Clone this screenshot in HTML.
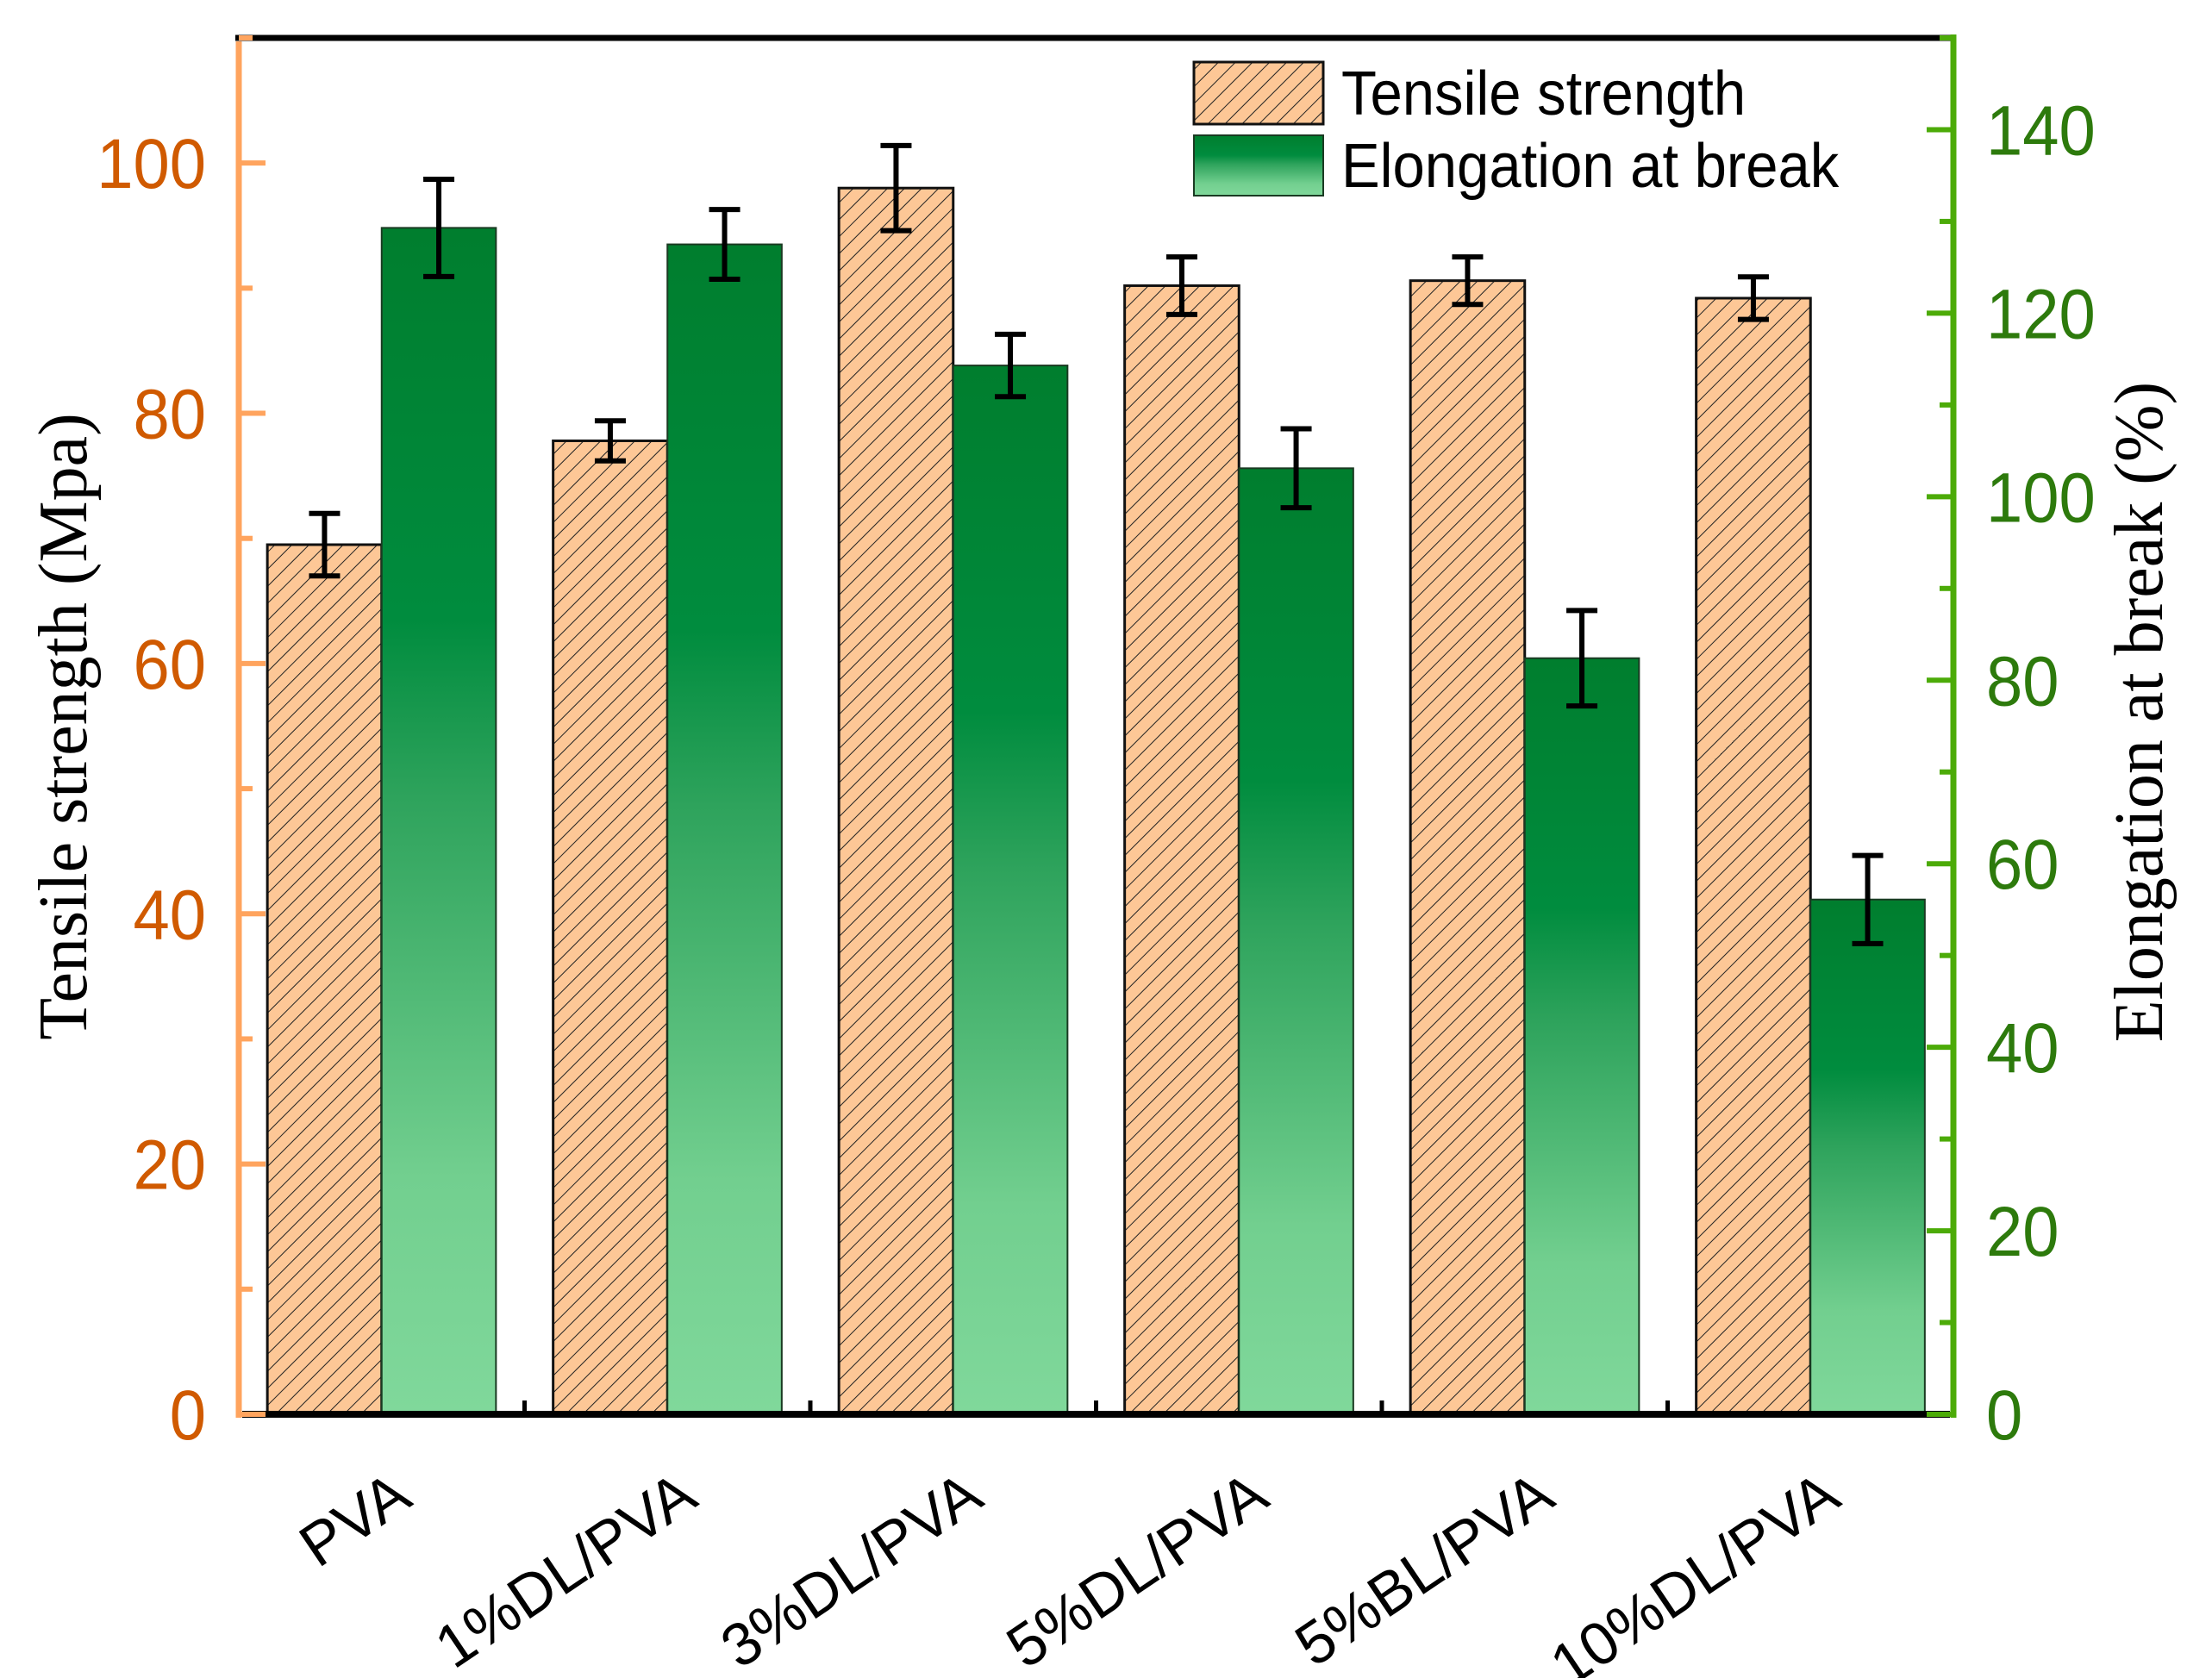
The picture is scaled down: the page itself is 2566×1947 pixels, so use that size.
<!DOCTYPE html>
<html><head><meta charset="utf-8"><style>
html,body{margin:0;padding:0;background:#fff;}
svg{display:block;}
</style></head><body>
<svg id="chart" width="2566" height="1947" viewBox="0 0 2566 1947" xmlns="http://www.w3.org/2000/svg">
<defs>
<pattern id="hatch" patternUnits="userSpaceOnUse" width="14" height="14" patternTransform="rotate(45)">
<rect width="14" height="14" fill="#fdc796"/>
<line x1="0" y1="0" x2="0" y2="14" stroke="#222" stroke-width="2"/>
</pattern>
<linearGradient id="grad" x1="0" y1="0" x2="0" y2="1">
<stop offset="0" stop-color="#007e2e"/>
<stop offset="0.33" stop-color="#008c3e"/>
<stop offset="0.48" stop-color="#2ea35c"/>
<stop offset="0.8" stop-color="#72cf8f"/>
<stop offset="1" stop-color="#80d89b"/>
</linearGradient>
</defs>
<g id="plot"></g>
</svg>
<script>
const categories = ["PVA","1%DL/PVA","3%DL/PVA","5%DL/PVA","5%BL/PVA","10%DL/PVA"];
const tensile = [69.5, 77.8, 98.0, 90.2, 90.6, 89.2];
const tensileErr = [2.5, 1.6, 3.4, 2.3, 1.9, 1.7];
const elong = [129.3, 127.5, 114.3, 103.1, 82.4, 56.1];
const elongErr = [5.3, 3.8, 3.4, 4.3, 5.2, 4.8];
const leftTicks = [0,20,40,60,80,100];
const rightTicks = [0,20,40,60,80,100,120,140];

const NS="http://www.w3.org/2000/svg";
const X0=277, X1=2266, Y0=1641, YT=44;
const yL = v => Y0 - (Y0-YT)*v/110;
const yR = v => Y0 - (Y0-YT)*v/150;
const cw = (X1-X0)/categories.length;
const xc = i => X0 + cw*(i+0.5);
const bw = cw*0.4;
const g = document.getElementById('plot');
function mk(tag, attrs){const e=document.createElementNS(NS,tag);for(const k in attrs)e.setAttribute(k,attrs[k]);g.appendChild(e);return e;}

categories.forEach((c,i)=>{
  const t = mk('rect',{x:xc(i)-bw,y:yL(tensile[i]),width:bw,height:Y0-yL(tensile[i]),fill:'url(#hatch)',stroke:'#111','stroke-width':3});
  
  
  const e = mk('rect',{x:xc(i),y:yR(elong[i]),width:bw,height:Y0-yR(elong[i]),fill:'url(#grad)',stroke:'#1a3a22','stroke-width':2});
  
  
});
function err(x,yTop,yBot,name){
  const p = mk('path',{d:`M${x},${yTop}V${yBot}M${x-18},${yTop}H${x+18}M${x-18},${yBot}H${x+18}`,stroke:'#000','stroke-width':6,fill:'none'});
  
  
}
categories.forEach((c,i)=>{
  err(xc(i)-bw/2, yL(tensile[i]+tensileErr[i]), yL(tensile[i]-tensileErr[i]), 'tensile-error-'+i);
  err(xc(i)+bw/2, yR(elong[i]+elongErr[i]), yR(elong[i]-elongErr[i]), 'elongation-error-'+i);
});
let a = mk('line',{x1:X0-4,y1:YT,x2:X1,y2:YT,stroke:'#000','stroke-width':7});


a = mk('line',{x1:X0,y1:YT+4,x2:X0,y2:Y0+4,stroke:'#ffa45e','stroke-width':7});


a = mk('line',{x1:X1,y1:YT-4,x2:X1,y2:Y0+4,stroke:'#4cab08','stroke-width':7});


a = mk('line',{x1:X0+4,y1:Y0,x2:X1-4,y2:Y0,stroke:'#000','stroke-width':8});


for(let i=1;i<categories.length;i++){
  const t=mk('line',{x1:X0+cw*i,y1:Y0,x2:X0+cw*i,y2:Y0-16,stroke:'#000','stroke-width':5});
  
  
}
for(let v=0;v<=110;v+=10){
  const maj = v%20===0;
  const t=mk('line',{x1:X0,y1:yL(v),x2:X0+(maj?31:16),y2:yL(v),stroke:'#ffa45e','stroke-width':6});
  
  
}
leftTicks.forEach(v=>{
  const y=yL(v)+29;
  const t=mk('text',{x:X0-38,y:y,'text-anchor':'end','font-family':'Liberation Sans, sans-serif','font-size':76,fill:'#d05a00',transform:`translate(0 ${y}) scale(1 1.08) translate(0 ${-y})`});
  t.textContent=v;
  
  
});
for(let v=0;v<=150;v+=10){
  const maj = v%20===0;
  const t=mk('line',{x1:X1,y1:yR(v),x2:X1-(maj?31:16),y2:yR(v),stroke:'#4cab08','stroke-width':6});
  
  
}
rightTicks.forEach(v=>{
  const y=yR(v)+29;
  const t=mk('text',{x:X1+38,y:y,'text-anchor':'start','font-family':'Liberation Sans, sans-serif','font-size':76,fill:'#2d7a0c',transform:`translate(0 ${y}) scale(1 1.08) translate(0 ${-y})`});
  t.textContent=v;
  
  
});
categories.forEach((c,i)=>{
  const x=xc(i)+38, y=1745;
  const t=mk('text',{x:x,y:y,'text-anchor':'end','font-family':'Liberation Sans, sans-serif','font-size':70,fill:'#000',transform:`rotate(-34 ${x} ${y})`});
  t.textContent=c;
  
  
});
let tt=mk('text',{x:0,y:0,'text-anchor':'middle','font-family':'Liberation Serif, serif','font-size':80,fill:'#000',transform:'translate(100 843) rotate(-90)'});
tt.textContent='Tensile strength (Mpa)';


tt=mk('text',{x:0,y:0,'text-anchor':'middle','font-family':'Liberation Serif, serif','font-size':80,fill:'#000',transform:'translate(2508 826) rotate(-90)'});
tt.textContent='Elongation at break (%)';


let r=mk('rect',{x:1385,y:72,width:150,height:72,fill:'url(#hatch)',stroke:'#111','stroke-width':3});


r=mk('rect',{x:1385,y:157,width:150,height:70,fill:'url(#grad)',stroke:'#1a3a22','stroke-width':2});


tt=mk('text',{x:1556,y:133,'font-family':'Liberation Sans, sans-serif','font-size':67,fill:'#000',transform:'translate(0 133) scale(1 1.08) translate(0 -133)'});
tt.textContent='Tensile strength';


tt=mk('text',{x:1556,y:217,'font-family':'Liberation Sans, sans-serif','font-size':67,fill:'#000',transform:'translate(0 217) scale(1 1.08) translate(0 -217)'});
tt.textContent='Elongation at break';


</script>
</body></html>
